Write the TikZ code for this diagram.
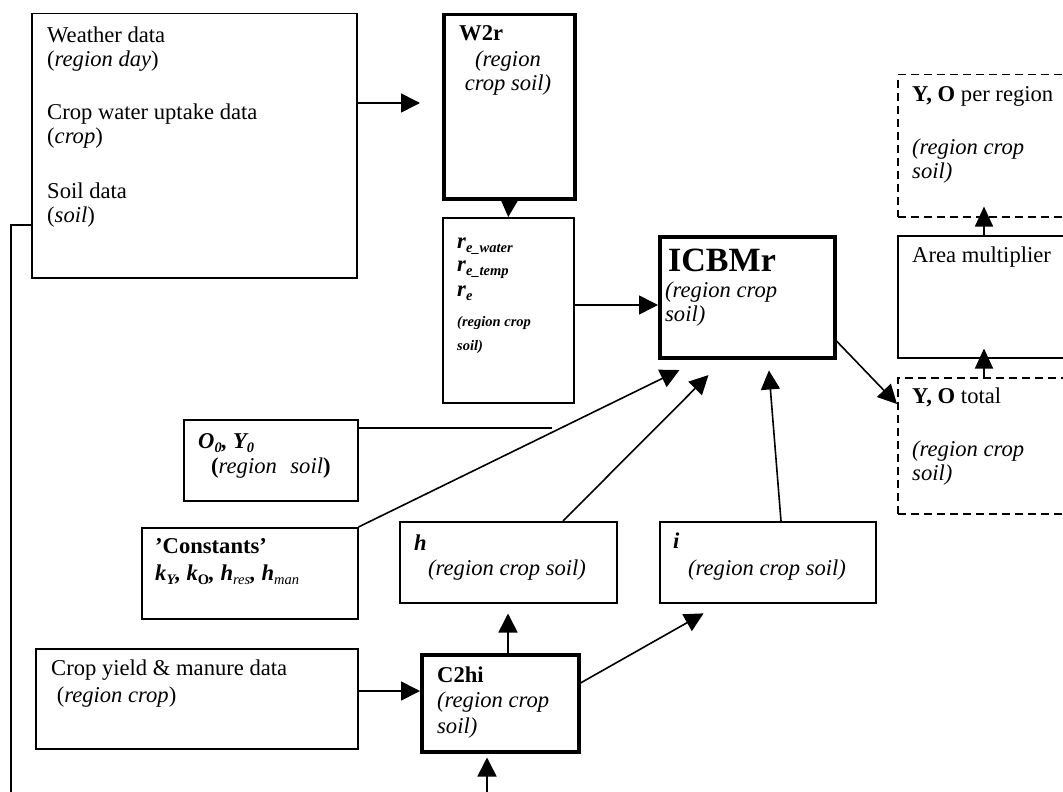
\documentclass[tikz,border=0pt]{standalone}
\usepackage{fontspec}
\setmainfont{Liberation Serif}
\usetikzlibrary{arrows.meta,calc}
\newcommand\lo[2][14.5]{\raisebox{-4pt}{\fontsize{#1}{#1}\selectfont #2}}
\newcommand\bodysize{\fontsize{22.6}{24}\selectfont}
\begin{document}
\begin{tikzpicture}[x=1pt,y=-1pt,
  bx/.style={draw, line width=1.5pt, inner sep=0pt, anchor=north west},
  tbx/.style={bx, line width=3.5pt},
  dbx/.style={bx, dash pattern=on 8pt off 5pt},
  tx/.style={anchor=base west, inner sep=0pt, align=left, font=\bodysize},
  itx/.style={tx, font=\bodysize\itshape},
  btx/.style={tx, font=\bodysize\bfseries},
  bitx/.style={tx, font=\bodysize\bfseries\itshape},
  sbi/.style={tx, font=\fontsize{14.5}{16}\selectfont\bfseries\itshape},
  ln/.style={line width=1.6pt},
  arr/.style={ln, -{Triangle[length=19pt,width=19pt]}},
  sarr/.style={ln, -{Triangle[length=20pt,width=18pt]}},
]
\path[use as bounding box] (0,0) rectangle (1063,792);
\clip (0,0) rectangle (1063,792);

% boxes
\node[bx, minimum width=325pt, minimum height=264pt] (wth) at (31,13) {};
\node[tbx, minimum width=131pt, minimum height=184pt] (w2r) at (442,13) {};
\node[bx, minimum width=131pt, minimum height=185pt] (re) at (442,217) {};
\node[tbx, minimum width=175pt, minimum height=121pt] (icb) at (658,235) {};
\node[dbx, minimum width=180pt, minimum height=142pt] (per) at (897,74) {};
\node[bx, minimum width=180pt, minimum height=122pt] (area) at (897,235) {};
\node[dbx, minimum width=180pt, minimum height=136pt] (tot) at (897,377) {};
\node[bx, minimum width=174pt, minimum height=81pt] (o0) at (183,419) {};
\node[bx, minimum width=216pt, minimum height=91pt] (cst) at (141,527) {};
\node[bx, minimum width=217pt, minimum height=81pt] (hbx) at (399,521) {};
\node[bx, minimum width=216pt, minimum height=81pt] (ibx) at (659,521) {};
\node[bx, minimum width=322pt, minimum height=100pt] (crop) at (35,648) {};
\node[tbx, minimum width=157pt, minimum height=97pt] (c2) at (420,653) {};

% texts (multi-line nodes are placed by the baseline of their last line)
\node[tx] (t1) at (47,222) {Weather data\\(\textit{region day})\\[29pt]Crop water uptake data\\(\textit{crop})\\[31pt]Soil data\\(\textit{soil})};
\node[btx] (t2) at (459,41) {W2r};
\node[itx, anchor=base, align=center] (t3) at (508,90) {(region\\crop soil)};
\node[bitx] (r1) at (457,248) {r\lo{e\_water}};
\node[bitx] (r2) at (457,271) {r\lo{e\_temp}};
\node[bitx] (r3) at (457,296) {r\lo{e}};
\node[sbi] (r4) at (457,326) {(region crop};
\node[sbi] (r5) at (457,350) {soil)};
\node[tx, font=\fontsize{34}{36}\selectfont\bfseries] (t4) at (668,271) {ICBMr};
\node[itx] (t5) at (665,321) {(region crop\\soil)};
\node[tx] (t6) at (912,102) {\textbf{Y, O} per region};
\node[itx] (t7) at (912,178) {(region crop\\soil)};
\node[tx] (t8) at (912,262) {Area multiplier};
\node[tx] (t9) at (912,403) {\textbf{Y, O} total};
\node[itx] (t10) at (912,480) {(region crop\\soil)};
\node[bitx] (t11) at (198,448) {O\lo{0}, Y\lo{0}};
\node[tx] (t12) at (211,473) {\textbf{(}\textit{region\hspace{0.6em}soil}\textbf{)}};
\node[btx] (t13) at (155,553) {’Constants’};
\node[bitx] (t14) at (155,580) {k\lo{Y}, k\lo{\upshape O}, h\lo{\mdseries res}, h\lo{\mdseries man}};
\node[bitx] (t15) at (414,550) {h};
\node[itx] (t16) at (428,575) {(region crop soil)};
\node[bitx] (t17) at (673,548) {i};
\node[itx] (t18) at (688,575) {(region crop soil)};
\node[tx] (t19) at (51,702) {Crop yield \& manure data\\[3pt]\ (\textit{region crop})};
\node[btx] (t20) at (437,682) {C2hi};
\node[itx] (t21) at (437,733) {(region crop\\[2pt]soil)};

% free ends
\coordinate (lb) at (11,792);
\coordinate (oe) at (552,428);
\coordinate (bot) at (487,792);

% connectors
\draw[arr, shorten >=22pt] (wth.east |- 0,103) -- (w2r.west |- 0,103);
\draw[arr] (w2r.south) -- (re.north);
\draw[arr] (re.east |- 0,305) -- (icb.west |- 0,305);
\draw[arr] (icb.east |- 0,341) -- (tot.west |- 0,404);
\draw[sarr, shorten >=-11pt] (area.north -| 984,0) -- (per.south -| 984,0);
\draw[sarr, shorten >=-10pt] (tot.north -| 984,0) -- (area.south -| 984,0);
\draw[arr, shorten >=24pt] (cst.north east) -- (icb.south -| 701,0);
\draw[arr, shorten >=22pt] (hbx.north -| 563,0) -- (icb.south -| 724,0);
\draw[arr, shorten >=11pt] (ibx.north -| 781,0) -- (icb.south -| 768,0);
\draw[arr] (crop.east |- 0,691) -- (c2.west |- 0,691);
\draw[arr, shorten >=10pt] (c2.north -| 508,0) -- (hbx.south -| 508,0);
\draw[arr, shorten >=20pt] (c2.east |- 0,683) -- (ibx.south -| 721,0);
\draw[arr, shorten >=4pt] (bot) -- (c2.south -| 487,0);
\draw[ln] (wth.west |- 0,225) -| (lb);
\draw[ln] (o0.east |- 0,428) -- (oe);
\end{tikzpicture}
\end{document}
